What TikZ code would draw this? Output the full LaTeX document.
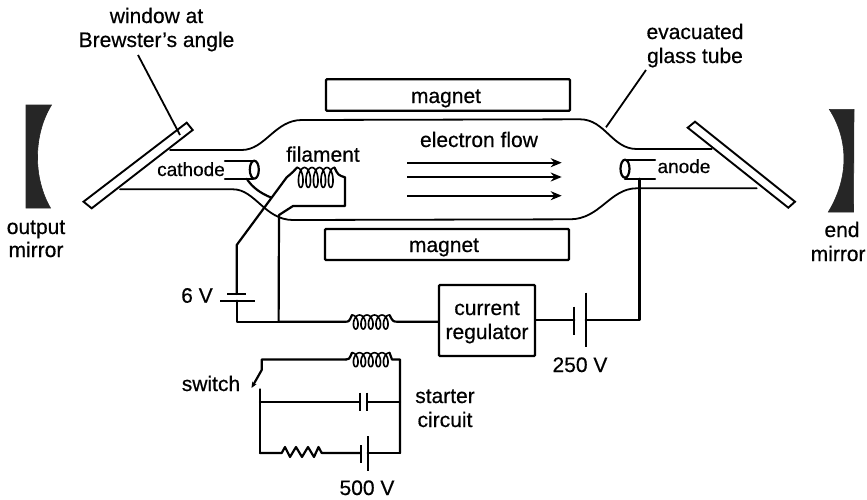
\documentclass[tikz,border=0pt]{standalone}
\usepackage{fontspec}
\setmainfont[RawFeature={embolden=0.5}]{Liberation Sans}
\usetikzlibrary{arrows.meta}
\newcommand{\coilat}[6]{% x0, y, loops, pitch, rx, ry
  \draw[wire,line width=1.6pt,smooth,samples=#3*24+1,domain=0:#3*360,variable=\t]
    plot ({#1+#4*\t/360+#5*sin(\t)},{#2-#6*cos(\t)});}
\tikzset{
  wire/.style={line width=2.2pt,line join=round,line cap=round},
  glass/.style={line width=1.8pt,line cap=round},
  thinlead/.style={line width=1.8pt},
  boxed/.style={draw,line width=2.3pt,rounded corners=1pt,inner sep=0pt},
  pane/.style={draw,line width=1.9pt,fill=white,line join=miter},
  mirrorbody/.style={fill=black!85,draw=black!85,line width=.6pt},
  lab/.style={anchor=base,inner sep=0pt,font=\fontsize{21}{24}\selectfont},
  smalllab/.style={lab,font=\fontsize{19}{22}\selectfont},
  plate/.style={line width=2.3pt},
  flowarrow/.style={line width=2pt,-{Stealth[length=11pt,width=9pt]}}
}
\begin{document}
\begin{tikzpicture}[x=1pt,y=-1pt]
\useasboundingbox (0,0) rectangle (867,499);
\clip (0,0) rectangle (867,499);

% mirrors
\fill[mirrorbody] (26,105) -- (51.5,105) .. controls (33,135) and (33,178) .. (50.5,208) -- (26,208) -- cycle;
\fill[mirrorbody] (829.3,109.3) -- (854,109.3) -- (853.5,212) -- (828.3,212) .. controls (849,178) and (849,140) .. (829.3,109.3) -- cycle;

% tube
\draw[glass] (170,150) -- (241.7,150) .. controls (265,150) and (275,120) .. (301.7,120)
  -- (580,119.3) .. controls (605,119.3) and (612,149) .. (636.7,149) -- (711.7,149);
\draw[glass] (120,189.3) -- (233,189.3) .. controls (255,189.3) and (265,220) .. (293,220)
  -- (570,219.3) .. controls (600,219.3) and (610,188.3) .. (636.7,188.3) -- (756.7,188.3);

% windows
\draw[pane] (83.5,201.7) -- (91.7,208.3) -- (192.7,130) -- (186.7,122.7) -- cycle;
\draw[pane] (687.7,127.7) -- (695,121.7) -- (795,201.7) -- (788.3,207.7) -- cycle;

% leaders
\coordinate (leadAa) at (138,55);
\coordinate (leadAb) at (180,135);
\coordinate (leadBa) at (646,70);
\coordinate (leadBb) at (606,127.3);
\draw[thinlead] (leadAa) -- (leadAb);
\draw[thinlead] (leadBa) -- (leadBb);

% magnets
\node[boxed,minimum width=244pt,minimum height=31.4pt] (magA) at (448,95) {};
\node[boxed,minimum width=244pt,minimum height=31pt] (magB) at (447,244.5) {};

% electrodes
\draw[wire] (225,160.7) -- (253,160.7);
\draw[wire] (225,178.7) -- (253,178.7);
\draw[wire] (254.3,169.7) ellipse (4.5 and 9);
\draw[wire] (655,160) -- (625,160);
\draw[wire] (655,178.7) -- (625,178.7);
\draw[wire] (625,168.7) ellipse (4.5 and 9);

% filament and its wiring
\coordinate (cathTap) at (246.7,178.7);
\coordinate (cathEnd) at (271,197.5);
\draw[wire] (cathTap) .. controls (252,187) and (260,193) .. (cathEnd);
\coilat{297}{177.5}{5}{7.5}{4}{10}
\coordinate (filL) at (297,167.5);
\coordinate (filR) at (334.5,167.5);
\coordinate (bentA) at (286.7,177.3);
\coordinate (bentB) at (236.7,245);
\coordinate (batSixTop) at (236.7,294);
\coordinate (batSixLow) at (237.3,300.7);
\coordinate (jnBL) at (237.3,321.7);
\coordinate (jnT) at (279,215);
\coordinate (jnB) at (278.6,321.7);
\coordinate (rtA) at (345,177.3);
\coordinate (rtB) at (345,206);
\coordinate (rtC) at (293,206);
\draw[wire] (filL) .. controls (293,172) .. (bentA) -- (bentB) -- (batSixTop);
\draw[wire] (filR) .. controls (338,175) .. (rtA) -- (rtB) -- (rtC) -- (jnT) -- (jnB);

% 6 V battery
\draw[plate] (227,294) -- (246,294);
\draw[plate] (220,300.7) -- (255,300.7);
\draw[wire] (batSixLow) -- (jnBL) -- (jnB);

% main series line
\coordinate (coilAL) at (352,315);
\coordinate (coilAR) at (389.5,315);
\coordinate (wireAL) at (345,321.7);
\coordinate (wireAR) at (398,321.7);
\node[boxed,minimum width=96pt,minimum height=71pt] (reg) at (487,320.5) {};
\draw[wire] (jnB) -- (wireAL) .. controls (349,321.7) .. (coilAL);
\coilat{352}{322}{5}{7.5}{4}{7}
\draw[wire] (coilAR) .. controls (393,321.7) .. (wireAR) -- (reg.west |- wireAR);

% 250 V battery
\coordinate (batMidL) at (574.3,320);
\coordinate (batMidR) at (585.7,320);
\coordinate (anTap) at (639.5,178.7);
\coordinate (anLow) at (639.5,320);
\draw[wire] (reg.east |- batMidL) -- (batMidL);
\draw[plate] (574.3,306.7) -- (574.3,335);
\draw[plate] (585.7,292.7) -- (585.7,347.3);
\draw[wire] (batMidR) -- (anLow) -- (anTap);

% starter circuit
\coordinate (stTL) at (261.7,359.5);
\coordinate (stTR) at (400,359.5);
\coordinate (stCL) at (346,359.5);
\coordinate (stCR) at (392,359.5);
\coordinate (swA) at (261.7,370);
\coordinate (swB) at (251.5,388);
\coordinate (stSw) at (260,389.3);
\coordinate (stBL) at (260,453);
\coordinate (stBR) at (400,453);
\coordinate (capL) at (260,401.7);
\coordinate (capR) at (400,401.7);
\draw[wire,-{Stealth[length=6pt,width=5pt]}] (stCL) -- (stTL) -- (swA) -- (swB);
\coilat{352}{359.7}{5}{7.5}{4}{7}
\draw[wire] (stCL) .. controls (349,359.5) .. (352,352.7);
\draw[wire] (389.5,352.7) .. controls (392,359.5) .. (stCR) -- (stTR) -- (stBR);
\draw[wire] (stSw) -- (stBL);
\draw[wire] (capL) -- (360,401.7);
\draw[wire] (367.3,401.7) -- (capR);
\draw[plate] (360,392.7) -- (360,410.7);
\draw[plate] (367.3,392.7) -- (367.3,410.7);
\draw[wire] (stBL) -- (281.7,453) -- (285,447) -- (290,457) -- (296,447) -- (302,457) -- (308,447) -- (314,457) -- (318.5,447) -- (321.7,453) -- (360.7,453);
\draw[wire] (367.7,453) -- (stBR);
\draw[plate] (360.7,445) -- (360.7,462.7);
\draw[plate] (367.7,436) -- (367.7,470.7);

% flow arrows
\foreach \n/\yy in {a/162.7,b/177,c/195.7}{
  \coordinate (fl\n s) at (407,\yy);
  \coordinate (fl\n e) at (561.7,\yy);
  \draw[flowarrow] (fl\n s) -- (fl\n e);
}

% labels
\node[lab] (t1) at (156.5,23) {window at};
\node[lab] (t2) at (156.5,47) {Brewster's angle};
\node[lab] (t3) at (695,39) {evacuated};
\node[lab] (t4) at (695,63) {glass tube};
\node[lab] (t5) at (446,103) {magnet};
\node[lab] (t6) at (444,252) {magnet};
\node[lab] (t7) at (479,147) {electron flow};
\node[lab] (t8) at (323,161.7) {filament};
\node[smalllab] (t9) at (191,176) {cathode};
\node[smalllab] (t10) at (684,173) {anode};
\node[lab] (t11) at (36,234) {output};
\node[lab] (t12) at (36,257) {mirror};
\node[lab] (t13) at (842,237) {end};
\node[lab,anchor=base west] (t14) at (810.5,261) {mirror};
\node[lab] (t15) at (487,315) {current};
\node[lab] (t16) at (487,339) {regulator};
\node[lab] (t17) at (580,372) {250 V};
\node[lab] (t18) at (197,302.7) {6 V};
\node[lab] (t19) at (211,391) {switch};
\node[lab] (t20) at (445,403) {starter};
\node[lab] (t21) at (445,427) {circuit};
\node[lab] (t22) at (367,495) {500 V};
\end{tikzpicture}
\end{document}
